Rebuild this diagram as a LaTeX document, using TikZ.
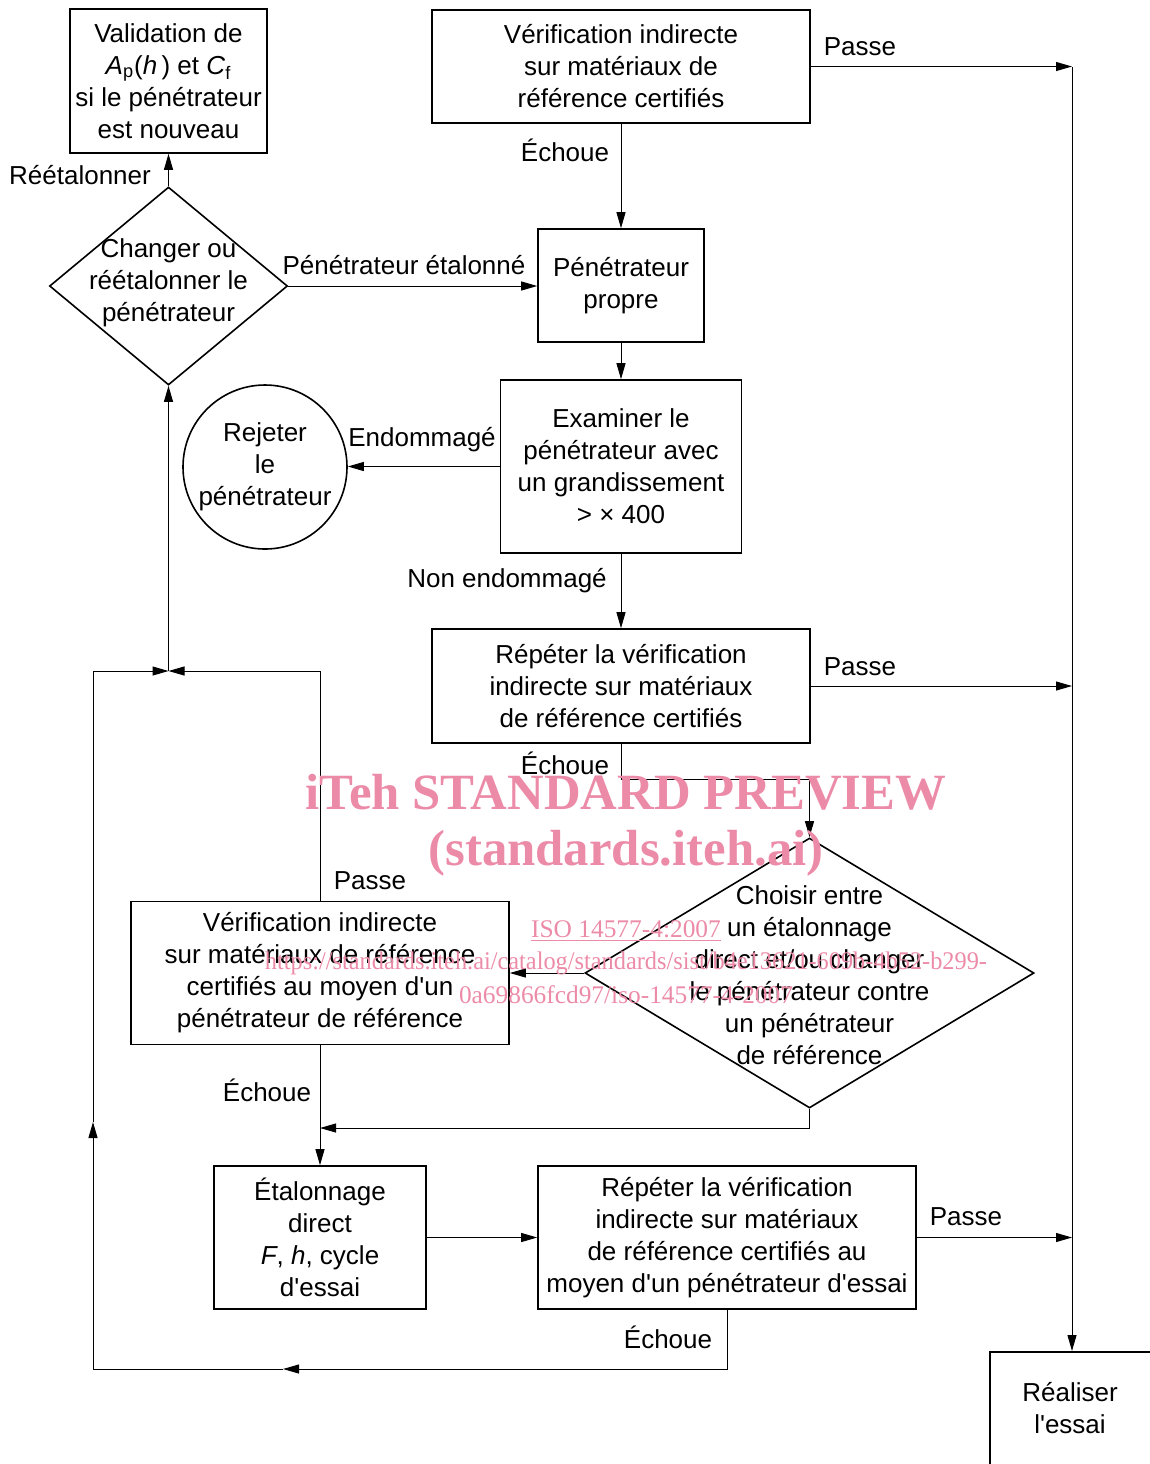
\documentclass[tikz,border=0pt]{standalone}
\usepackage{fontspec}
\usepackage{graphicx}
\setmainfont{Liberation Sans}[Ligatures=TeXOff]
\newfontfamily\wmfont{Liberation Serif}
\usetikzlibrary{arrows.meta,shapes.geometric}
\definecolor{wm}{RGB}{236,139,168}
\begin{document}
\begin{tikzpicture}[x=0.5pt,y=-0.5pt,
  every node/.style={font=\fontsize{13pt}{16pt}\selectfont},
  box/.style={draw,line width=0.8pt,rectangle,align=center,inner sep=0pt},
  dia/.style={draw,line width=0.8pt,diamond,inner sep=0pt},
  arr/.style={line width=0.5pt,-{Triangle[length=8pt,width=4.5pt]}},
  ln/.style={line width=0.5pt},
  wmt/.style={text=wm,inner sep=0pt}]
\useasboundingbox (0,0) rectangle (1150,1464);
\clip (0,0) rectangle (1150,1464);

% boxes
\node[box,minimum width=98.5pt,minimum height=72pt] (val) at (168.5,81) {Validation de\\\textit{A}\textsubscript{p}(\textit{h}\,) et \textit{C}\textsubscript{f}\\si le pénétrateur\\est nouveau};
\node[box,minimum width=189pt,minimum height=56.5pt] (v1) at (621,66.5) {Vérification indirecte\\sur matériaux de\\référence certifiés};
\node[box,minimum width=83pt,minimum height=56.5pt] (pp) at (621,285.5) {Pénétrateur\\propre};
\node[dia,minimum width=119pt,minimum height=99pt] (d1) at (168.5,286) {};
\node[align=center] (d1t) at (168.5,283) {Changer ou\\réétalonner le\\pénétrateur};
\node[box,minimum width=120.5pt,minimum height=86.5pt] (ex) at (621,466.5) {Examiner le\\pénétrateur avec\\un grandissement\\> × 400};
\node[draw,circle,line width=0.8pt,minimum size=82pt,inner sep=0pt,align=center] (rej) at (265,467) {Rejeter\\le\\pénétrateur};
\node[box,minimum width=189pt,minimum height=57pt] (r1) at (621,686) {Répéter la vérification\\indirecte sur matériaux\\de référence certifiés};
\node[dia,minimum width=224.5pt,minimum height=135pt] (d2) at (809.5,973) {};
\node[align=center] (d2t) at (809.5,975) {Choisir entre\\un étalonnage\\direct et/ou changer\\le pénétrateur contre\\un pénétrateur\\de référence};
\node[box,minimum width=189pt,minimum height=71.5pt] (vb) at (320,973) {Vérification indirecte\\sur matériaux de référence\\certifiés au moyen d'un\\pénétrateur de référence};
\node[box,minimum width=106pt,minimum height=71.5pt] (et) at (320,1237.5) {Étalonnage\\direct\\\textit{F}, \textit{h}, cycle\\d'essai};
\node[box,minimum width=189pt,minimum height=71.5pt] (r2) at (727,1237.5) {Répéter la vérification\\indirecte sur matériaux\\de référence certifiés au\\moyen d'un pénétrateur d'essai};
\node[box,anchor=north west,minimum width=100pt,minimum height=70pt] (re) at (989,1351) {};
\node[align=center] (ret) at (1070,1408) {Réaliser\\l'essai};

% labels
\node (lp1) at (860,47) {Passe};
\node (le1) at (565,150) {Échoue};
\node (lre) at (80,175) {Réétalonner};
\node (lpe) at (404,265) {Pénétrateur étalonné};
\node (len) at (422,440) {Endommagé};
\node (lne) at (507,581) {Non endommagé};
\node (lp2) at (860,667) {Passe};
\node (le2) at (565,763) {Échoue};
\node (lp3) at (370,881) {Passe};
\node (le3) at (267,1090) {Échoue};
\node (lp4) at (966,1217) {Passe};
\node (le4) at (668,1337) {Échoue};

% coordinates
\coordinate (rx) at (1072,66.5);
\coordinate (k1) at (621,779);
\coordinate (k2) at (809.5,1128);
\coordinate (j1) at (168.5,671);
\coordinate (b1) at (727,1369);
\coordinate (b2) at (283,1369);
\coordinate (b3) at (93,1369);
\coordinate (b4) at (93,1122);
\coordinate (b5) at (93,671);

% connectors
\draw[arr] (v1.east) -- (rx);
\draw[arr] (rx) -- (rx |- re.north);
\draw[arr] (v1.south) -- (pp.north);
\draw[arr] (d1.east) -- (d1.east -| pp.west);
\draw[arr] (d1.north) -- (val.south);
\draw[arr] (pp.south) -- (ex.north);
\draw[arr] (ex.west) -- (ex.west -| rej.east);
\draw[arr] (ex.south) -- (r1.north);
\draw[arr] (r1.east) -- (r1.east -| rx);
\draw[arr] (r1.south) -- (k1) -| (d2.north);
\draw[arr] (d2.west) -- (d2.west -| vb.east);
\draw[arr] (vb.north) |- (j1);
\draw[arr] (j1) -- (d1.south);
\draw[arr] (vb.south) -- (et.north);
\draw[arr] (d2.south) |- (vb.south |- k2);
\draw[arr] (et.east) -- (et.east -| r2.west);
\draw[arr] (r2.east) -- (r2.east -| rx);
\draw[arr] (r2.south) -- (b1) -- (b2);
\draw[arr] (b2) -- (b3) -- (b4);
\draw[arr] (b4) -- (b5) -- (j1);

% watermark
\node[wmt,font=\wmfont\bfseries\fontsize{25.4pt}{30pt}\selectfont] (wm1) at (626,792) {iTeh STANDARD PREVIEW};
\node[wmt,font=\wmfont\bfseries\fontsize{25.4pt}{30pt}\selectfont] (wm2) at (626,853) {(standards.iteh.ai)};
\node[wmt,font=\wmfont\fontsize{12.7pt}{15pt}\selectfont] (wm3) at (626,931) {\underline{ISO 14577-4:2007}};
\node[wmt,font=\wmfont\fontsize{12.7pt}{15pt}\selectfont] (wm4) at (626,963) {\resizebox{361pt}{\height}{https://standards.iteh.ai/catalog/standards/sist/b4e13621-609b-4b52-b299-}};
\node[wmt,font=\wmfont\fontsize{12.7pt}{15pt}\selectfont] (wm5) at (626,995) {\resizebox{167pt}{\height}{0a69866fcd97/iso-14577-4-2007}};
\end{tikzpicture}
\end{document}
